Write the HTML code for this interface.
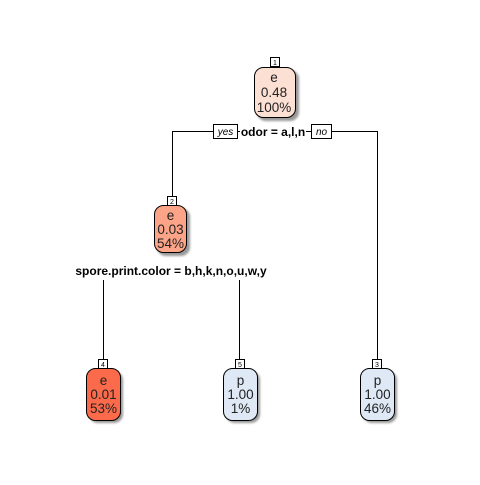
<!DOCTYPE html>
<html><head><style>
body{margin:0;background:#fff;}
</style></head><body>
<svg width="480" height="480" xmlns="http://www.w3.org/2000/svg" font-family="Liberation Sans, sans-serif">
<defs><filter id="s"><feGaussianBlur stdDeviation="1"/></filter></defs>
<g stroke="#000" stroke-width="1" fill="none">
<path d="M172.5 198V131.5H377.5V359"/>
<path d="M103.5 280V359M239.5 280V359"/>
</g>
<g fill="#999" filter="url(#s)">
<rect x="257" y="70" width="42" height="51" rx="9"/>
<rect x="157" y="208" width="33" height="48" rx="9"/>
<rect x="89" y="371" width="34" height="52" rx="9"/>
<rect x="226" y="371" width="34" height="52" rx="9"/>
<rect x="363" y="371" width="34" height="52" rx="9"/>
</g>
<g stroke="#000" stroke-width="1">
<rect x="254.5" y="67.5" width="41" height="50" rx="9" fill="#fde0d4"/>
<rect x="154.5" y="205.5" width="32" height="47" rx="9" fill="#fca487"/>
<rect x="86.5" y="368.5" width="34" height="52" rx="9" fill="#fb6a4a"/>
<rect x="223.5" y="368.5" width="34" height="52" rx="9" fill="#dee9f5"/>
<rect x="360.5" y="368.5" width="34" height="52" rx="9" fill="#dee9f5"/>
<g fill="#fff">
<rect x="270.5" y="57.5" width="9" height="9"/>
<rect x="167.5" y="196.5" width="9" height="9"/>
<rect x="98.5" y="359.5" width="9" height="9"/>
<rect x="235.5" y="359.5" width="9" height="9"/>
<rect x="372.5" y="359.5" width="9" height="9"/>
<rect x="213.5" y="124.5" width="24" height="14"/>
<rect x="311.5" y="124.5" width="20" height="14"/>
</g>
</g>
<rect x="240" y="124" width="66" height="15" fill="#fff"/>
<rect x="76" y="262" width="190" height="16" fill="#fff"/>
<g font-size="7" text-anchor="middle" fill="#000">
<text x="275" y="65">1</text><text x="172" y="204">2</text>
<text x="103" y="367">4</text><text x="240" y="367">5</text><text x="377" y="367">3</text>
</g>
<g font-size="10" font-style="italic" text-anchor="middle">
<text x="225.5" y="135">yes</text><text x="321.5" y="135">no</text>
</g>
<g font-size="12" font-weight="bold" text-anchor="middle">
<text x="273" y="136">odor = a,l,n</text>
<text x="171" y="275">spore.print.color = b,h,k,n,o,u,w,y</text>
</g>
<g font-size="13.5" text-anchor="middle" fill="#222">
<text x="274" y="82">e</text><text x="274" y="97">0.48</text><text x="274" y="112">100%</text>
<text x="170.5" y="220">e</text><text x="170.5" y="234">0.03</text><text x="170.5" y="248">54%</text>
<text x="103.5" y="385">e</text><text x="103.5" y="399">0.01</text><text x="103.5" y="413">53%</text>
<text x="240.5" y="385">p</text><text x="240.5" y="399">1.00</text><text x="240.5" y="413">1%</text>
<text x="377.5" y="385">p</text><text x="377.5" y="399">1.00</text><text x="377.5" y="413">46%</text>
</g>
</svg>
</body></html>
